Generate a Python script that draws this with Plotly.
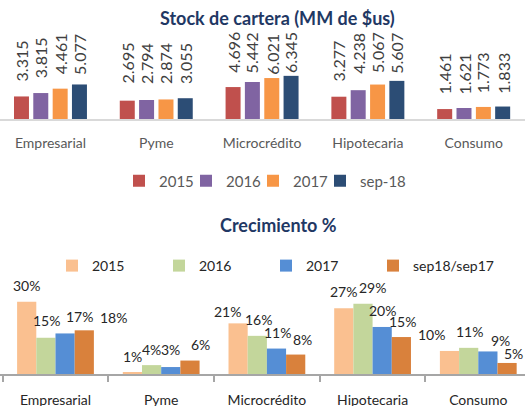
import plotly.graph_objects as go

categories = ["Empresarial", "Pyme", "Microcrédito", "Hipotecaria", "Consumo"]

stock_series = ["2015", "2016", "2017", "sep-18"]
stock_2015 = [3.315, 2.695, 4.696, 3.277, 1.461]
stock_2016 = [3.815, 2.794, 5.442, 4.238, 1.621]
stock_2017 = [4.461, 2.874, 6.021, 5.067, 1.773]
stock_sep18 = [5.077, 3.055, 6.345, 5.607, 1.833]

growth_series = ["2015", "2016", "2017", "sep18/sep17"]
growth_2015 = [30.1, 0.6, 21.1, 27.4, 9.6]
growth_2016 = [15.1, 3.7, 15.9, 29.3, 10.9]
growth_2017 = [16.9, 2.9, 10.6, 19.6, 9.4]
growth_sep = [18.2, 5.6, 8.1, 15.4, 4.6]

FONT = "Lato"
top_colors = ["#C0504D", "#8064A2", "#F79646", "#2C4D75"]
bot_colors = ["#FAC090", "#C3D69B", "#558ED5", "#D9813C"]

# --- styling / placement (pixels) ---
TOP_CAT_PX = 105.8
BOT_CAT_PX = 105.7
top_offsets = [-0.345, -0.1625, 0.0208, 0.203]
top_width = 0.1418
bot_width = 0.1816
bot_offsets = [-2 * bot_width, -bot_width, 0, bot_width]
bot_legends = ["legend2", "legend2", "legend2", "legend3"]

# label gaps above bar tops (px), per series, per category (mimics Excel label placement)
top_gaps = [[13, 15, 12, 13.5, 13],
            [13, 14, 6.5, 14, 12],
            [12, 14, 1.5, 9.5, 11.5],
            [7.5, 12, 0.5, 5.5, 11]]
bot_gaps = [[16, 16, 12, 17, 16],
            [17, 16, 16, 16, 16],
            [16.5, 18, 16, 16.5, 11],
            [13, 16, 15.5, 16, 9]]
bot_dx = [[0, 0, -11, 0, -18],
          [1, 0, 1, 10, 1],
          [14, 0, 1, 0, 12.5],
          [29, 11, 7, 1, 6]]

fig = go.Figure()
annotations = []

top_data = [stock_2015, stock_2016, stock_2017, stock_sep18]
for si, (name, vals, col, off) in enumerate(zip(stock_series, top_data, top_colors, top_offsets)):
    fig.add_trace(go.Bar(
        x=categories, y=vals, name=name, marker=dict(color=col, line=dict(width=0)),
        width=top_width, offset=off, xaxis="x", yaxis="y", legend="legend",
        hoverinfo="skip",
    ))
    cx = (off + top_width / 2) * TOP_CAT_PX
    for ci, (cat, v) in enumerate(zip(categories, vals)):
        annotations.append(dict(
            x=cat, y=v, xref="x", yref="y", text=f"{v:.3f}", textangle=-90,
            showarrow=False, xanchor="center", yanchor="bottom",
            xshift=cx, yshift=top_gaps[si][ci],
            font=dict(family=FONT, size=16, color="#404040"),
        ))

# invisible spacer legend entry so that the last real top entry is not clipped
fig.add_trace(go.Bar(
    x=[categories[0]], y=[0], name=" ", marker=dict(color="rgba(0,0,0,0)", line=dict(width=0)),
    width=0.001, xaxis="x", yaxis="y", legend="legend", hoverinfo="skip",
))

bot_data = [growth_2015, growth_2016, growth_2017, growth_sep]
for si, (name, vals, col, off, lg) in enumerate(zip(growth_series, bot_data, bot_colors, bot_offsets, bot_legends)):
    fig.add_trace(go.Bar(
        x=categories, y=vals, name=name, marker=dict(color=col, line=dict(width=0)),
        width=bot_width, offset=off, xaxis="x2", yaxis="y2", legend=lg,
        hoverinfo="skip",
    ))
    cx = (off + bot_width / 2) * BOT_CAT_PX
    for ci, (cat, v) in enumerate(zip(categories, vals)):
        annotations.append(dict(
            x=cat, y=v, xref="x2", yref="y2", text=f"{v:.0f}%",
            showarrow=False, xanchor="center", yanchor="middle",
            xshift=cx + bot_dx[si][ci], yshift=bot_gaps[si][ci],
            font=dict(family=FONT, size=14, color="#262626"),
        ))

H = 406.0
def py(px):
    return (H - px) / H

annotations += [
    dict(text="<b>Stock de cartera (MM de $us)</b>", x=277 / 525, y=py(18),
         xref="paper", yref="paper", showarrow=False, xanchor="center", yanchor="middle",
         font=dict(family=FONT, size=18, color="#1F3864")),
    dict(text="<b>Crecimiento %</b>", x=278 / 525, y=py(225),
         xref="paper", yref="paper", showarrow=False, xanchor="center", yanchor="middle",
         font=dict(family=FONT, size=18, color="#1F3864")),
]

legend_common = dict(orientation="h", xanchor="left", yanchor="middle", itemwidth=30,
                     bgcolor="rgba(0,0,0,0)", itemclick=False, itemdoubleclick=False)

fig.update_layout(
    width=525, height=406,
    margin=dict(l=0, r=0, t=0, b=0, autoexpand=False),
    paper_bgcolor="white", plot_bgcolor="white",
    barmode="overlay",
    showlegend=True,
    font=dict(family=FONT, color="#595959"),
    xaxis=dict(domain=[0, 1], type="category", range=[-0.477, 4.485],
               showline=True, linecolor="#D9D9D9", linewidth=1.5,
               showgrid=False, ticks="", ticklabelstandoff=10,
               tickfont=dict(family=FONT, size=14, color="#595959"),
               anchor="y"),
    yaxis=dict(domain=[py(119), py(65)], range=[0, 7.94], visible=False,
               showgrid=False, zeroline=False, anchor="x"),
    xaxis2=dict(domain=[0, 1], type="category", range=[-0.525, 4.442],
                showline=True, linecolor="#A6A6A6", linewidth=1.5,
                showgrid=False, ticks="outside", tickson="boundaries",
                ticklen=6, tickcolor="#A6A6A6", tickwidth=1.5,
                ticklabelstandoff=12,
                tickfont=dict(family=FONT, size=14, color="#262626"),
                anchor="y2"),
    yaxis2=dict(domain=[py(374), py(290)], range=[0, 35], visible=False,
                showgrid=False, zeroline=False, anchor="x2"),
    legend=dict(x=119 / 525, y=py(181), entrywidth=22, entrywidthmode="pixels",
                font=dict(family=FONT, size=15, color="#595959"), **legend_common),
    legend2=dict(x=52 / 525, y=py(266), entrywidth=62, entrywidthmode="pixels",
                 font=dict(family=FONT, size=14, color="#262626"), **legend_common),
    legend3=dict(x=373 / 525, y=py(266),
                 font=dict(family=FONT, size=14, color="#262626"), **legend_common),
    annotations=annotations,
)

fig.write_html("out.html")
